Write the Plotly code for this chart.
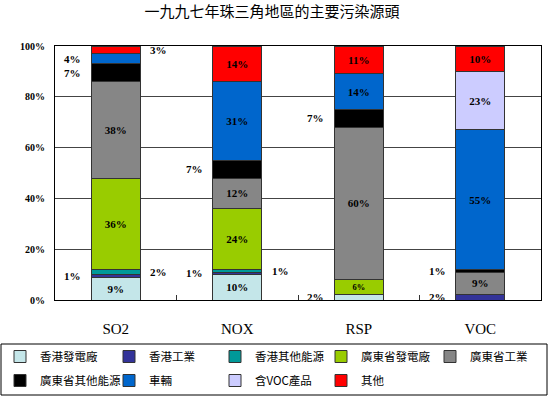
import plotly.graph_objects as go

categories = ["SO2", "NOX", "RSP", "VOC"]

series_names = ["香港發電廠", "香港工業", "香港其他能源", "廣東省發電廠", "廣東省工業",
                "廣東省其他能源", "車輛", "含VOC產品", "其他"]

hk_power = [9, 10, 2, 0]
hk_industry = [1, 1, 0, 2]
hk_other = [2, 1, 0, 0]
gd_power = [36, 24, 6, 0]
gd_industry = [38, 12, 60, 9]
gd_other = [7, 7, 7, 1]
vehicles = [4, 31, 14, 55]
voc_products = [0, 0, 0, 23]
others = [3, 14, 11, 10]

series_values = [hk_power, hk_industry, hk_other, gd_power, gd_industry,
                 gd_other, vehicles, voc_products, others]

# where each value label sits: inside bar, left or right of bar, or none
label_pos = [
    ["in", "in", "L", ""],
    ["L", "L", "", "L"],
    ["R", "R", "", ""],
    ["in", "in", "in", ""],
    ["in", "in", "in", "in"],
    ["L", "L", "L", "L"],
    ["L", "in", "in", "in"],
    ["", "", "", "in"],
    ["R", "in", "in", "in"],
]

colors = ["#C4E6E9", "#333399", "#009999", "#99CC00", "#868686",
          "#000000", "#0066CC", "#CCCCFF", "#FF0000"]

y_ticks = [0, 20, 40, 60, 80, 100]
y_tick_labels = ["0%", "20%", "40%", "60%", "80%", "100%"]

label_font = dict(family="Liberation Serif", size=11, color="black", weight="bold")
cjk = "Noto Sans CJK TC"

W, H = 550, 397
# legend grid: symbol centre x (px) per column, row top y (px)
legend_cols = [21, 130, 236, 342, 451]
legend_rows = [342, 366]
sym_offset = 21

fig = go.Figure()
legend_layout = {}
for i, (name, vals, pos, col) in enumerate(zip(series_names, series_values, label_pos, colors)):
    texts = [f"{v}%" if p == "in" else "" for v, p in zip(vals, pos)]
    lid = "legend" if i == 0 else f"legend{i + 1}"
    fig.add_trace(go.Bar(
        x=categories, y=vals, name=name,
        marker=dict(color=col, line=dict(color="#333333", width=1)),
        text=texts, textposition="inside", insidetextanchor="middle",
        textangle=0, textfont=label_font,
        legend=lid,
    ))
    r, c = divmod(i, 5)
    legend_layout[lid] = dict(
        orientation="h", xref="container", yref="container",
        x=max(legend_cols[c] - sym_offset, 0) / W, xanchor="left",
        y=1 - legend_rows[r] / H, yanchor="top",
        font=dict(family=cjk, size=11.5, color="black"),
        bgcolor="rgba(0,0,0,0)", borderwidth=0,
    )

# outside labels
bar_half = 0.2
cum = [0] * len(categories)
for vals, pos in zip(series_values, label_pos):
    for j, (v, p) in enumerate(zip(vals, pos)):
        mid = cum[j] + v / 2
        if p == "L":
            fig.add_annotation(x=j - bar_half, y=mid, xref="x", yref="y", text=f"{v}%",
                               showarrow=False, xanchor="right", xshift=-8, font=label_font)
        elif p == "R":
            fig.add_annotation(x=j + bar_half, y=mid, xref="x", yref="y", text=f"{v}%",
                               showarrow=False, xanchor="left", xshift=8, font=label_font)
        cum[j] += v

L, T, PW, PH = 55, 46, 486, 254
fig.update_layout(
    width=W, height=H,
    margin=dict(l=L, r=W - L - PW, t=T, b=H - T - PH, autoexpand=False),
    paper_bgcolor="white", plot_bgcolor="white",
    barmode="stack", bargap=0.6,
    title=dict(text="一九九七年珠三角地區的主要污染源頭", x=272 / W, xanchor="center",
               y=1 - 12 / H, yanchor="middle", xref="container", yref="container",
               font=dict(family=cjk, size=15, color="black")),
    showlegend=True,
    shapes=[dict(type="rect", xref="paper", yref="paper",
                 x0=(1 - L) / PW, x1=(547 - L) / PW,
                 y0=(T + PH - 395) / PH, y1=(T + PH - 344) / PH,
                 line=dict(color="black", width=1), fillcolor="rgba(0,0,0,0)")],
    **legend_layout,
)

fig.update_xaxes(
    showline=True, linecolor="black", linewidth=1, mirror=True,
    ticks="inside", tickson="boundaries", ticklen=5, tickcolor="#333333",
    tickfont=dict(family="Liberation Serif", size=15, color="black"),
    ticklabelstandoff=15, showgrid=False,
)
fig.update_yaxes(
    range=[0, 100], tickmode="array", tickvals=y_ticks, ticktext=y_tick_labels,
    showline=True, linecolor="black", linewidth=1, mirror=True,
    showgrid=True, gridcolor="#444444", gridwidth=1, zeroline=False,
    tickfont=dict(family="Liberation Serif", size=10, color="black", weight="bold"),
    ticks="", ticklabelstandoff=7,
)

fig.write_html("out.html", config={"displayModeBar": False},
               post_script="document.body.style.margin='0px';")
